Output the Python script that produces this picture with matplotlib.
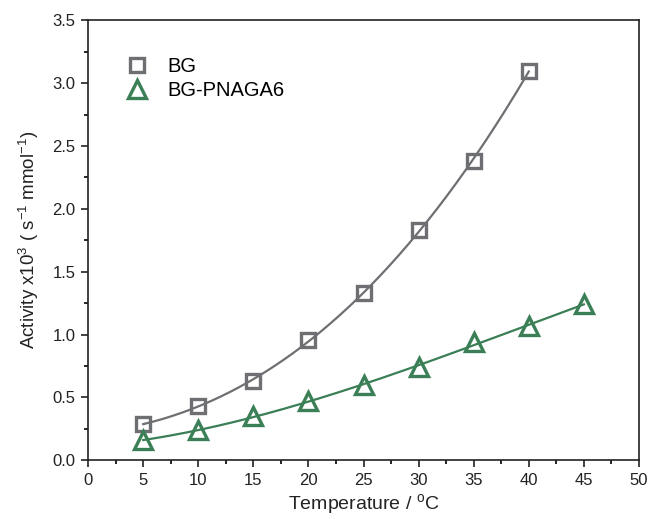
import numpy as np
import matplotlib
matplotlib.use("Agg")
import matplotlib.pyplot as plt

plt.rcParams['font.family'] = ['Liberation Sans', 'DejaVu Sans']

temp_bg = [5, 10, 15, 20, 25, 30, 35, 40]
act_bg = [0.29, 0.43, 0.63, 0.96, 1.33, 1.83, 2.38, 3.10]
temp_pn = [5, 10, 15, 20, 25, 30, 35, 40, 45]
act_pn = [0.16, 0.24, 0.35, 0.47, 0.60, 0.74, 0.94, 1.07, 1.24]

grey = '#6e6f72'
green = '#3b7f56'

fig = plt.figure(figsize=(6.48, 5.19), dpi=100)
ax = fig.add_axes([0.136, 0.113, 0.850, 0.848])

# smooth fitted curves through the data
for t, a, c in [(temp_bg, act_bg, grey), (temp_pn, act_pn, green)]:
    p = np.polyfit(t, a, 3)
    xs = np.linspace(min(t), max(t), 200)
    ax.plot(xs, np.polyval(p, xs), color=c, lw=1.6, zorder=2)

ax.plot(temp_bg, act_bg, ls='none', marker='s', ms=10, mfc='none', mec=grey, mew=2.4,
        label='BG', zorder=3)
ax.plot(temp_pn, act_pn, ls='none', marker='^', ms=12.5, mfc='none', mec=green, mew=2.4,
        label='BG-PNAGA6', zorder=3)

ax.set_xlim(0, 50)
ax.set_ylim(0, 3.5)
ax.set_xticks(np.arange(0, 51, 5))
ax.set_xticks(np.arange(0, 51, 2.5), minor=True)
ax.set_yticks(np.arange(0, 3.51, 0.5))
ax.set_yticks(np.arange(0, 3.51, 0.25), minor=True)
ax.set_yticklabels([f'{v:.1f}' for v in np.arange(0, 3.51, 0.5)])
ax.tick_params(which='major', direction='out', length=5, width=1.2, labelsize=12, colors='#222222', pad=4)
ax.tick_params(which='minor', direction='out', length=3, width=1.2)
for s in ax.spines.values():
    s.set_linewidth(1.2)
    s.set_color('#222222')

ax.set_xlabel('Temperature / $\\mathregular{^{o}}$C', fontsize=14, color='#222222', labelpad=3)
ax.set_ylabel('Activity x10$\\mathregular{^{3}}$ ( s$\\mathregular{^{-1}}$ mmol$\\mathregular{^{-1}}$)',
              fontsize=13.5, color='#222222', labelpad=8)

ax.legend(loc='upper left', bbox_to_anchor=(0.045, 0.935), frameon=False, fontsize=14.5,
          handletextpad=0.7, labelspacing=0.25, borderaxespad=0, handlelength=1.6)

fig.savefig('out.png', dpi=100)
